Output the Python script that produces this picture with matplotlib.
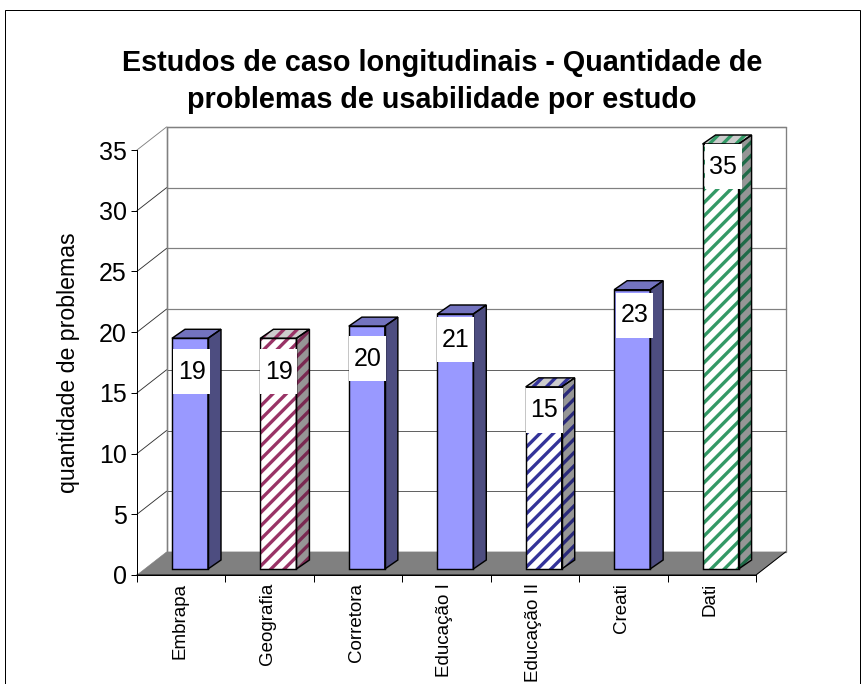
import matplotlib
matplotlib.use("Agg")
import matplotlib.pyplot as plt
from matplotlib.patches import Polygon, Rectangle

# ---- data ----
categories = ["Embrapa", "Geografia", "Corretora", "Educação I", "Educação II", "Creati", "Dati"]
values = [19, 19, 20, 21, 15, 23, 35]
y_ticks = [0, 5, 10, 15, 20, 25, 30, 35]
title = "Estudos de caso longitudinais - Quantidade de\nproblemas de usabilidade por estudo"
y_label = "quantidade de problemas"

# ---- styles ----
stripe = [None, "#993366", None, None, "#333399", None, "#339966"]
stripe_dark = [None, "#7a2a52", None, None, "#2a2a7a", None, "#1f6b48"]
label_top_gap = [11, 11, 10, 3, 1, 3, 0]     # px under bar top
label_shift = [1, 0, 0, 0, 0, 2, 2]          # px right of bar left

W, H, DPI = 864, 684, 80
plt.rcParams["font.family"] = ["Liberation Sans", "DejaVu Sans"]
plt.rcParams["hatch.linewidth"] = 3.0
fig = plt.figure(figsize=(W / DPI, H / DPI), dpi=DPI, facecolor="white")

# frame, running past the bottom edge
fig.add_artist(Rectangle((5 / W, 1 - 700 / H), 855 / W, 690 / H, transform=fig.transFigure,
                         fc="white", ec="black", lw=0.9, zorder=-5))

L, R, T, B = 137, 756, 150, 575
ax = fig.add_axes([L / W, 1 - B / H, (R - L) / W, (B - T) / H])
ax.set_xlim(0, len(categories))
ax.set_ylim(0, 35)
ax.patch.set_alpha(0)
for s in ["top", "right"]:
    ax.spines[s].set_visible(False)
ax.spines["left"].set_linewidth(0.9)
ax.spines["bottom"].set_linewidth(0.9)

px_x = len(categories) / (R - L)
px_y = 35 / (B - T)
dx, dy = 29.5 * px_x, 23 * px_y          # wall depth
bx, by = 13 * px_x, 9 * px_y             # bar depth
lift_x, lift_y = 35 * px_x, 6 * px_y     # bar inset
bar_w = 36 * px_x
n = len(categories)
GRID = "#808080"

# walls and floor
ax.add_patch(Polygon([(dx, dy), (n + dx, dy), (n + dx, 35 + dy), (dx, 35 + dy)], closed=True,
                     fc="white", ec=GRID, lw=1.2, clip_on=False, zorder=1))
ax.add_patch(Polygon([(0, 0), (n, 0), (n + dx, dy), (dx, dy)], closed=True,
                     fc="#808080", ec="#808080", lw=0.5, clip_on=False, zorder=1.5))
ax.plot([0, n, n + dx], [0, 0, dy], color="black", lw=0.9, clip_on=False, zorder=1.6)
for v in y_ticks[1:]:
    c = GRID if v >= 20 else "#505050"
    ax.plot([dx, n + dx], [v + dy, v + dy], color=c, lw=1.1 if v >= 20 else 0.8, clip_on=False, zorder=1.2)
    ax.plot([0, dx], [v, v + dy], color=GRID if v == 35 else "#303030", lw=0.8, clip_on=False, zorder=1.2)
ax.plot([dx, dx], [dy, 35 + dy], color=GRID, lw=1.2, clip_on=False, zorder=1.3)

# bars
for i, (v, st, sd) in enumerate(zip(values, stripe, stripe_dark)):
    x0 = i + lift_x
    x1 = x0 + bar_w
    y0 = lift_y
    y1 = v + lift_y
    h = y1 - y0
    side = [(x1, y0), (x1 + bx, y0 + by), (x1 + bx, y1 + by), (x1, y1)]
    top = [(x0, y1), (x1, y1), (x1 + bx, y1 + by), (x0 + bx, y1 + by)]
    if st is None:
        ax.bar(x0, h, bar_w, bottom=y0, align="edge", color="#9999ff", zorder=3, clip_on=False)
        ax.add_patch(Polygon(side, closed=True, fc="#4d4d80", lw=0, zorder=3, clip_on=False))
        ax.add_patch(Polygon(top, closed=True, fc="#7373bf", lw=0, zorder=3, clip_on=False))
    else:
        ax.bar(x0, h, bar_w, bottom=y0, align="edge", facecolor="white", edgecolor=st,
               hatch="//", linewidth=0, zorder=3, clip_on=False)
        ax.add_patch(Polygon(side, closed=True, facecolor="#969696", edgecolor=sd,
                             hatch="//", linewidth=0, zorder=3, clip_on=False))
        ax.add_patch(Polygon(top, closed=True, facecolor="#cccccc", edgecolor=st,
                             hatch="//", linewidth=0, zorder=3, clip_on=False))
    ax.bar(x0, h, bar_w, bottom=y0, align="edge", fill=False, edgecolor="black", linewidth=1.3, zorder=4,
           clip_on=False)
    for poly in (side, top):
        ax.add_patch(Polygon(poly, closed=True, fill=False, edgecolor="black", linewidth=1.3, zorder=4,
                             clip_on=False))
    # data label
    bw, bh = 37 * px_x, 45 * px_y
    lx = x0 + label_shift[i] * px_x
    ly = y1 - label_top_gap[i] * px_y - bh
    ax.add_patch(Rectangle((lx, ly), bw, bh, fc="white", ec="none", zorder=5, clip_on=False))
    ax.text(lx + bw / 2, ly + bh / 2, str(v), ha="center", va="center", fontsize=22.5, zorder=6)

# axes furniture
ax.set_yticks(y_ticks)
ax.set_yticklabels([str(v) for v in y_ticks], fontsize=22.5)
ax.set_xticks(range(n + 1))
ax.set_xticklabels([""] * (n + 1))
ax.tick_params(axis="y", length=5, width=0.9, pad=4)
ax.tick_params(axis="x", length=6.5, width=0.9)
for i, c in enumerate(categories):
    ax.annotate(c, xy=(i + 0.5, 0), xycoords="data", xytext=(-1.5, -7), textcoords="offset points",
                rotation=90, ha="center", va="top", fontsize=16.9, annotation_clip=False)
fig.text(68 / W, 1 - 363 / H, y_label, rotation=90, ha="center", va="center", fontsize=20.8)
fig.text(442 / W, 1 - 81.5 / H, title, ha="center", va="center", fontsize=25.9, fontweight="bold", linespacing=1.38)

fig.savefig("out.png", dpi=DPI)
